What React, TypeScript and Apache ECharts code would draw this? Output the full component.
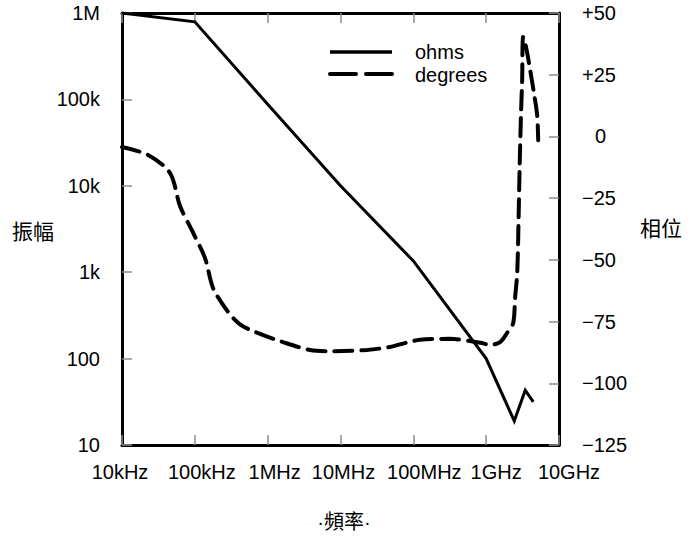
import React, { useEffect, useRef } from "react";
import * as echarts from "echarts";

// Tick labels
const freqLabels = ["10kHz", "100kHz", "1MHz", "10MHz", "100MHz", "1GHz", "10GHz"];
const ohmsLabels = ["10", "100", "1k", "10k", "100k", "1M"];
const freqLabelShift = [-2, 7, 7, 3, 11, 10, 10];

// Series names
const seriesNames = ["ohms", "degrees"];

// Magnitude (ohms)
const ohmsFreq = [1e4, 1e5, 1e6, 1e7, 1e8, 1e9, 2.43e9, 3.44e9, 4.43e9];
const ohmsValues = [1e6, 7.9e5, 8.8e4, 1.0e4, 1.35e3, 100, 19, 43, 31.5];

// Phase (degrees)
const degFreq = [
  1e4, 2.28e4, 4.56e4, 6.26e4, 9.06e4, 1.38e5, 1.78e5, 2.86e5, 4.17e5, 6.71e5,
  1.62e6, 3.8e6, 7.9e6, 2.3e7, 4.7e7, 1.23e8, 3.16e8, 8.3e8, 1.13e9, 1.55e9,
  1.94e9, 2.35e9, 2.5e9, 2.67e9, 2.79e9, 2.88e9, 3.02e9, 3.12e9, 3.22e9,
  3.55e9, 4.02e9, 4.57e9, 5.01e9, 5.18e9,
];
const degValues = [
  -4.3, -7.5, -14.8, -28.2, -37.9, -49.3, -61.4, -71.1, -76.1, -79.2,
  -83.3, -86.5, -87, -86.5, -85.3, -82.4, -82, -83.6, -84.4, -83.3,
  -79.6, -75.6, -65, -55.3, -32.6, -12.4, 10.7, 22.8, 40.3,
  35.8, 26.9, 16.8, 8.7, -1.5,
];

const FONT = "'Liberation Sans', Arial, sans-serif";
const FS = 20;
const CJK = "'Liberation Sans', 'Noto Sans CJK TC', sans-serif";

export default function App() {
  const ref = useRef<HTMLDivElement>(null);
  useEffect(() => {
    if (!ref.current) return;
    const chart = echarts.init(ref.current, undefined, { renderer: "svg" });

    const rich: Record<string, any> = {};
    freqLabelShift.forEach((s, i) => {
      rich["p" + i] = {
        fontSize: FS,
        fontFamily: FONT,
        color: "#000",
        padding: s >= 0 ? [0, 0, 0, 2 * s] : [0, -2 * s, 0, 0],
      };
    });

    const tickStyle = { show: true, inside: true, length: 10, lineStyle: { color: "#8c8c8c", width: 1.5 } };
    const axisLine = { show: true, onZero: false, lineStyle: { color: "#000", width: 3 } };

    const option: any = {
      animation: false,
      grid: { left: 122, right: 138, top: 13, bottom: 91, containLabel: false },
      xAxis: [
        {
          type: "log",
          logBase: 10,
          min: 1e4,
          max: 1e10,
          splitNumber: 6,
          position: "bottom",
          axisLine,
          axisTick: tickStyle,
          splitLine: { show: false },
          axisLabel: {
            margin: 17,
            fontSize: FS,
            fontFamily: FONT,
            color: "#000",
            formatter: (v: number) => {
              const i = Math.round(Math.log10(v)) - 4;
              return `{p${i}|${freqLabels[i]}}`;
            },
            rich,
          },
        },
        {
          type: "log",
          logBase: 10,
          min: 1e4,
          max: 1e10,
          splitNumber: 6,
          position: "top",
          axisLine,
          axisTick: tickStyle,
          splitLine: { show: false },
          axisLabel: { show: false },
        },
      ],
      yAxis: [
        {
          type: "log",
          logBase: 10,
          min: 10,
          max: 1e6,
          splitNumber: 5,
          position: "left",
          axisLine,
          axisTick: tickStyle,
          splitLine: { show: false },
          axisLabel: {
            margin: 22,
            fontSize: FS,
            fontFamily: FONT,
            color: "#000",
            formatter: (v: number) => ohmsLabels[Math.round(Math.log10(v)) - 1],
          },
        },
        {
          type: "value",
          min: -125,
          max: 50,
          interval: 25,
          position: "right",
          axisLine,
          axisTick: tickStyle,
          splitLine: { show: false },
          axisLabel: {
            margin: 23,
            fontSize: FS,
            fontFamily: FONT,
            color: "#000",
            align: "left",
            formatter: (v: number) =>
              v > 0 ? "+" + v : v < 0 ? "\u2212" + Math.abs(v) : "{z|0}",
            rich: {
              z: { fontSize: FS, fontFamily: FONT, color: "#000", padding: [0, 0, 0, 13] },
            },
          },
        },
      ],
      series: [
        {
          name: seriesNames[0],
          type: "line",
          xAxisIndex: 0,
          yAxisIndex: 0,
          data: ohmsFreq.map((f, i) => [f, ohmsValues[i]]),
          symbol: "none",
          lineStyle: { color: "#000", width: 3, join: "miter" },
        },
        {
          name: seriesNames[1],
          type: "line",
          xAxisIndex: 0,
          yAxisIndex: 1,
          data: degFreq.map((f, i) => [f, degValues[i]]),
          symbol: "none",
          smooth: 0.3,
          lineStyle: { color: "#000", width: 4, type: [18, 9], cap: "round" },
        },
      ],
      graphic: [
        {
          type: "line",
          shape: { x1: 330, y1: 52, x2: 392, y2: 52 },
          style: { stroke: "#000", lineWidth: 3.5 },
        },
        {
          type: "line",
          shape: { x1: 330, y1: 74, x2: 392, y2: 74 },
          style: { stroke: "#000", lineWidth: 4, lineDash: [26, 10], lineCap: "round" },
        },
        {
          type: "text",
          x: 415,
          y: 52,
          style: { text: seriesNames[0], fontSize: FS, fontFamily: FONT, fill: "#000", verticalAlign: "middle" },
        },
        {
          type: "text",
          x: 415,
          y: 75,
          style: { text: seriesNames[1], fontSize: FS, fontFamily: FONT, fill: "#000", verticalAlign: "middle" },
        },
        {
          type: "text",
          x: 12,
          y: 231,
          style: { text: "振幅", fontSize: 21, fontFamily: CJK, fill: "#000", verticalAlign: "middle" },
        },
        {
          type: "text",
          x: 640,
          y: 228,
          style: { text: "相位", fontSize: 21, fontFamily: CJK, fill: "#000", verticalAlign: "middle" },
        },
        {
          type: "text",
          x: 344,
          y: 522,
          style: { text: "·頻率·", fontSize: 20, fontFamily: CJK, fill: "#000", align: "center", verticalAlign: "middle" },
        },
      ],
    };
    chart.setOption(option);
    return () => chart.dispose();
  }, []);
  return <div ref={ref} style={{ width: 697, height: 536, position: "absolute", left: 0, top: 0 }} />;
}
